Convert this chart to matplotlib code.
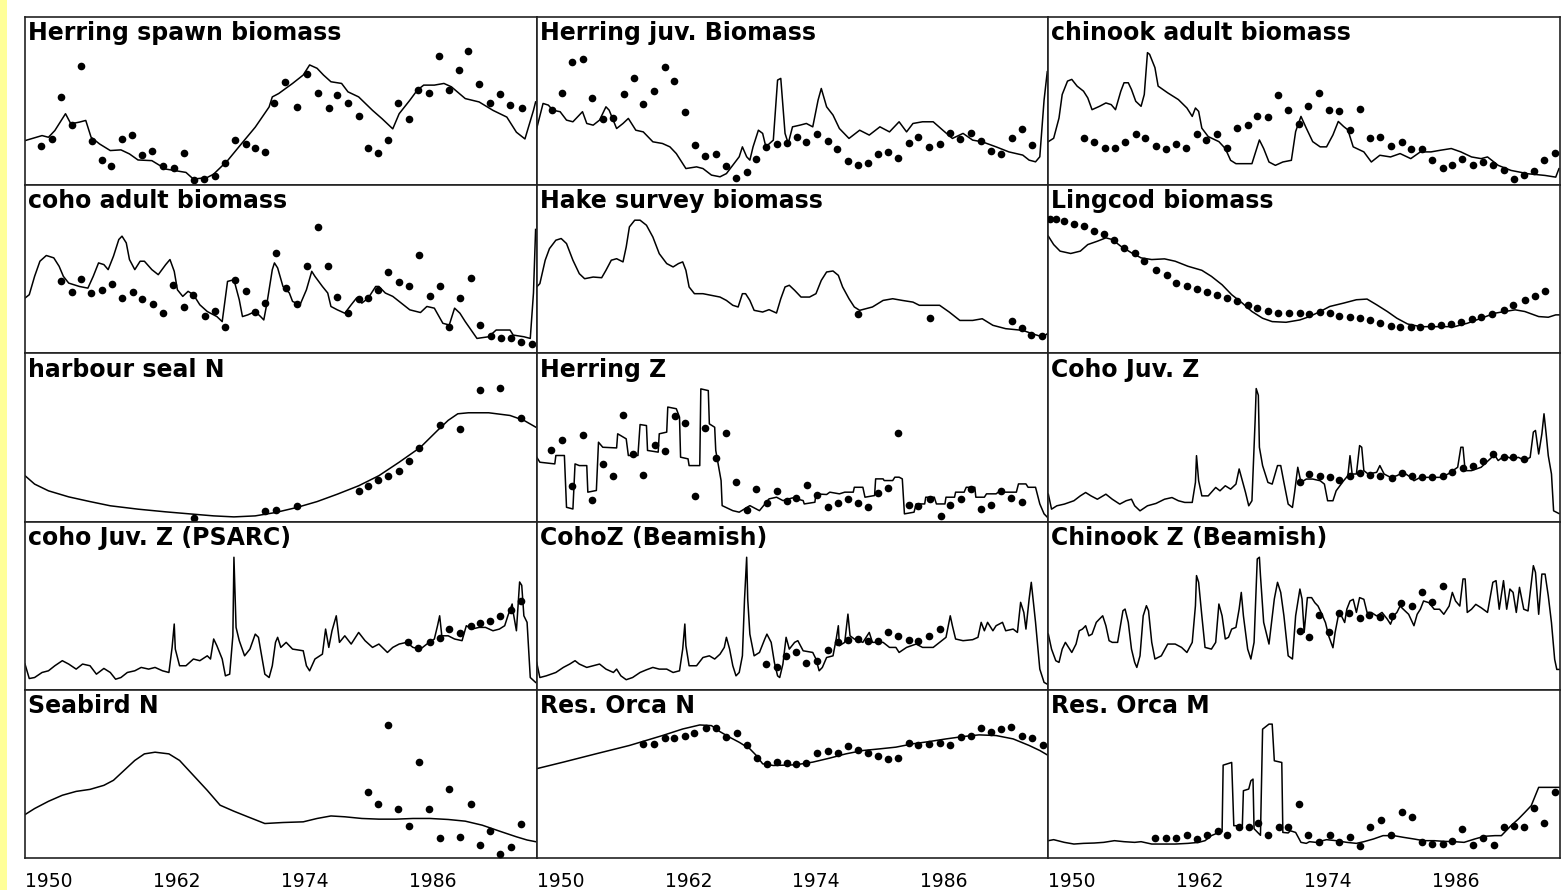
import matplotlib
matplotlib.use("Agg")
import matplotlib.pyplot as plt
from matplotlib.patches import Rectangle

YEAR_TICKS = [1950, 1962, 1974, 1986]
TICK_LABELS = ["1950", "1962", "1974", "1986"]

# all values, on a 0-100 scale of each panel's height

# Herring spawn biomass
hsb_line_yr = [1950.0, 1951.6, 1952.2, 1952.8, 1953.8, 1954.3, 1955.1, 1955.7, 1956.2, 1957.0,
               1958.0, 1959.0, 1959.8, 1960.6, 1961.9, 1963.2, 1965.1, 1965.8, 1967.1, 1967.7,
               1969.0, 1970.3, 1971.6, 1972.9, 1973.2, 1973.8, 1975.1, 1976.1, 1976.7, 1977.4,
               1978.0, 1978.7, 1979.7, 1980.3, 1981.3, 1982.6, 1983.5, 1984.5, 1985.1, 1986.1,
               1986.8, 1987.4, 1988.4, 1989.3, 1990.0, 1991.3, 1992.6, 1993.9, 1995.2, 1996.1,
               1996.9, 1997.7, 1997.9]
hsb_line_val = [26.5, 29.5, 28.5, 32.5, 42.5, 36.5, 37.5, 38.5, 28.5, 24.5,
                20.6, 21.0, 18.6, 15.0, 14.6, 9.6, 7.6, 3.6, 4.6, 6.6,
                14.6, 24.6, 34.5, 46.5, 52.5, 54.5, 60.5, 65.5, 71.5, 69.5,
                65.5, 61.5, 60.5, 55.5, 52.5, 44.5, 39.5, 33.5, 42.5, 50.5,
                56.5, 59.5, 59.5, 60.5, 58.5, 51.5, 49.5, 44.5, 40.5, 31.5,
                27.5, 44.5, 49.5]
hsb_obs_yr = [1951.5, 1952.5, 1953.4, 1954.4, 1955.3, 1956.3, 1957.2, 1958.1, 1959.1, 1960.0,
              1961.0, 1961.9, 1962.9, 1964.0, 1964.9, 1965.9, 1966.8, 1967.8, 1968.8, 1969.7,
              1970.7, 1971.6, 1972.5, 1973.4, 1974.4, 1975.5, 1976.5, 1977.5, 1978.5, 1979.3,
              1980.3, 1981.3, 1982.2, 1983.1, 1984.1, 1985.0, 1986.0, 1986.9, 1987.9, 1988.8,
              1989.8, 1990.7, 1991.6, 1992.6, 1993.6, 1994.6, 1995.5, 1996.6]
hsb_obs_val = [23.2, 27.5, 52.5, 35.5, 71.1, 26.5, 15.0, 11.2, 27.5, 29.9,
               18.0, 20.6, 11.6, 10.2, 19.0, 3.2, 3.6, 5.6, 13.2, 26.9,
               24.2, 22.2, 19.6, 49.1, 61.5, 46.5, 66.1, 55.1, 45.9, 53.5,
               48.9, 41.1, 22.2, 19.0, 26.9, 49.1, 39.5, 56.5, 55.1, 77.0,
               56.5, 68.5, 79.8, 59.9, 49.1, 54.5, 47.9, 45.9]

# Herring juv. Biomass
hjb_line_yr = [1950.0, 1950.6, 1951.1, 1951.5, 1952.2, 1952.8, 1953.4, 1954.0, 1954.3, 1954.7,
               1955.3, 1955.9, 1956.5, 1956.8, 1957.5, 1958.1, 1958.6, 1959.3, 1960.0, 1960.9,
               1961.8, 1962.5, 1963.1, 1964.0, 1965.0, 1965.6, 1966.4, 1967.2, 1967.8, 1968.4,
               1969.0, 1969.3, 1969.7, 1970.0, 1970.3, 1970.8, 1971.2, 1971.5, 1972.2, 1972.6,
               1972.9, 1973.3, 1973.6, 1974.0, 1974.7, 1975.3, 1975.9, 1976.4, 1976.7, 1977.2,
               1977.8, 1978.4, 1979.3, 1980.3, 1981.2, 1982.2, 1983.1, 1984.0, 1984.7, 1985.3,
               1986.2, 1987.2, 1988.1, 1989.0, 1990.0, 1990.9, 1991.8, 1993.1, 1994.3, 1995.6,
               1996.2, 1996.8, 1997.2, 1997.6, 1997.9]
hjb_line_val = [33.7, 48.6, 47.6, 44.6, 43.7, 38.7, 37.7, 41.7, 43.7, 36.7,
                35.7, 38.7, 46.6, 44.6, 33.7, 36.7, 39.7, 32.7, 31.7, 25.8,
                24.8, 22.8, 18.8, 9.9, 10.9, 9.9, 6.0, 5.0, 6.9, 11.9,
                16.9, 22.8, 16.9, 14.9, 22.8, 32.7, 30.8, 22.8, 26.8, 62.5,
                63.5, 30.8, 24.8, 34.7, 35.7, 36.7, 34.7, 50.6, 57.5, 46.6,
                41.7, 33.7, 27.8, 32.7, 29.8, 34.7, 31.7, 37.7, 31.7, 36.7,
                37.7, 37.7, 32.7, 27.8, 30.8, 26.8, 25.8, 22.8, 19.8, 17.9,
                14.9, 13.9, 16.9, 50.6, 67.5]
hjb_obs_yr = [1951.4, 1952.4, 1953.3, 1954.3, 1955.2, 1956.2, 1957.2, 1958.2, 1959.1, 1960.0,
              1961.0, 1962.0, 1962.9, 1963.9, 1964.9, 1965.8, 1966.8, 1967.8, 1968.7, 1969.7,
              1970.6, 1971.5, 1972.5, 1973.5, 1974.4, 1975.3, 1976.3, 1977.3, 1978.2, 1979.2,
              1980.1, 1981.1, 1982.0, 1983.0, 1983.9, 1984.9, 1985.8, 1986.8, 1987.8, 1988.8,
              1989.7, 1990.7, 1991.7, 1992.6, 1993.6, 1994.6, 1995.5, 1996.5]
hjb_obs_val = [44.6, 55.0, 73.0, 75.2, 52.0, 39.1, 39.7, 54.2, 63.7, 48.0,
               56.3, 70.0, 62.1, 43.3, 23.8, 17.5, 18.3, 11.3, 4.4, 7.9,
               15.7, 22.8, 24.4, 24.8, 28.4, 25.4, 30.2, 26.2, 21.4, 14.3,
               11.9, 13.3, 18.5, 19.8, 15.9, 25.2, 28.6, 22.8, 24.2, 31.1,
               27.2, 30.8, 26.0, 20.4, 18.3, 28.2, 33.2, 23.8]

# chinook adult biomass
cab_line_yr = [1950.0, 1950.5, 1951.0, 1951.3, 1951.8, 1952.2, 1952.7, 1953.3, 1953.7, 1954.1,
               1954.8, 1955.4, 1955.9, 1956.3, 1956.8, 1957.1, 1957.5, 1957.8, 1958.2, 1958.7,
               1959.0, 1959.3, 1959.5, 1960.0, 1960.3, 1961.2, 1962.2, 1963.0, 1963.5, 1963.8,
               1964.1, 1964.4, 1965.0, 1966.0, 1966.6, 1967.1, 1967.6, 1969.1, 1969.8, 1970.2,
               1970.7, 1971.3, 1972.0, 1972.8, 1973.2, 1973.7, 1974.2, 1974.8, 1975.5, 1976.1,
               1976.7, 1977.2, 1977.7, 1978.1, 1978.6, 1979.6, 1980.3, 1981.1, 1982.1, 1983.0,
               1984.0, 1984.9, 1985.9, 1986.8, 1987.8, 1988.7, 1989.7, 1990.6, 1991.2, 1992.2,
               1993.4, 1995.0, 1996.6, 1997.6, 1997.9]
cab_line_val = [25.9, 27.9, 39.9, 53.9, 61.9, 62.9, 58.9, 55.9, 51.9, 44.9,
                46.9, 48.9, 47.9, 44.9, 55.9, 60.9, 60.9, 56.9, 49.9, 46.9,
                53.9, 78.8, 77.8, 69.9, 58.9, 54.9, 50.9, 45.9, 40.9, 45.9,
                43.9, 33.9, 28.9, 25.9, 21.8, 14.8, 12.8, 12.8, 26.9, 21.8,
                13.8, 11.8, 13.8, 14.8, 31.9, 40.9, 33.9, 25.9, 22.8, 22.8,
                29.9, 37.9, 34.9, 32.9, 22.8, 19.8, 13.8, 17.8, 16.8, 18.8,
                15.8, 19.8, 19.8, 20.8, 21.8, 19.8, 16.8, 15.8, 16.8, 11.8,
                8.8, 6.8, 5.8, 4.8, 9.8]
cab_obs_yr = [1953.3, 1954.3, 1955.3, 1956.3, 1957.2, 1958.2, 1959.1, 1960.1, 1961.0, 1962.0,
              1962.9, 1963.9, 1964.8, 1965.8, 1966.8, 1967.7, 1968.7, 1969.6, 1970.6, 1971.5,
              1972.5, 1973.5, 1974.4, 1975.4, 1976.3, 1977.3, 1978.3, 1979.2, 1980.2, 1981.1,
              1982.1, 1983.2, 1984.0, 1985.1, 1986.0, 1987.0, 1987.9, 1988.8, 1989.8, 1990.8,
              1991.7, 1992.7, 1993.7, 1994.6, 1995.6, 1996.5, 1997.5]
cab_obs_val = [27.9, 25.9, 22.4, 22.4, 25.5, 30.3, 27.9, 23.4, 21.4, 24.2,
               22.4, 30.3, 26.9, 30.3, 22.4, 33.9, 35.9, 40.9, 40.3, 53.5,
               44.9, 36.5, 47.3, 54.9, 44.9, 43.9, 32.9, 45.3, 27.9, 28.9,
               23.4, 25.5, 21.8, 21.4, 14.8, 10.4, 11.8, 15.8, 11.8, 13.8,
               11.8, 8.8, 3.4, 5.8, 8.2, 14.8, 19.4]

# coho adult biomass
coa_line_yr = [1950.0, 1950.4, 1950.9, 1951.4, 1952.0, 1952.7, 1953.2, 1953.6, 1954.1, 1955.1,
               1955.9, 1956.4, 1956.9, 1957.4, 1957.8, 1958.3, 1958.8, 1959.1, 1959.5, 1959.8,
               1960.3, 1960.8, 1961.2, 1961.9, 1962.5, 1963.2, 1963.6, 1964.0, 1964.3, 1964.8,
               1965.3, 1965.8, 1966.4, 1967.1, 1968.0, 1968.5, 1969.0, 1969.6, 1970.1, 1970.4,
               1970.9, 1971.6, 1972.1, 1972.4, 1972.7, 1973.2, 1973.4, 1973.7, 1974.2, 1974.8,
               1975.1, 1975.8, 1976.4, 1976.9, 1977.2, 1977.9, 1978.4, 1978.7, 1979.3, 1980.0,
               1980.6, 1981.1, 1981.6, 1982.2, 1982.9, 1983.2, 1983.8, 1984.5, 1985.5, 1986.1,
               1987.1, 1987.7, 1988.4, 1989.2, 1989.8, 1990.3, 1990.8, 1991.3, 1992.4, 1993.5,
               1994.2, 1995.5, 1995.8, 1996.8, 1997.4, 1997.7, 1997.9]
coa_line_val = [32.9, 34.9, 45.8, 54.8, 58.2, 56.8, 51.8, 45.8, 41.8, 39.8,
                38.8, 45.8, 53.8, 52.8, 49.8, 57.8, 67.7, 69.7, 65.7, 55.8,
                49.8, 54.8, 54.8, 49.8, 46.8, 52.8, 55.8, 48.8, 37.8, 33.9,
                36.9, 34.9, 28.9, 24.9, 21.9, 18.9, 42.8, 43.8, 31.9, 21.9,
                22.9, 24.9, 21.9, 19.9, 29.9, 49.8, 53.8, 50.8, 39.8, 35.9,
                30.9, 28.9, 37.8, 48.8, 45.8, 39.8, 35.9, 27.9, 25.9, 23.9,
                28.9, 32.9, 29.9, 32.9, 39.8, 39.8, 35.9, 33.9, 28.9, 25.9,
                24.3, 27.9, 26.9, 17.9, 16.9, 26.9, 23.9, 18.9, 8.9, 9.9,
                13.9, 13.9, 10.9, 9.9, 8.9, 35.9, 73.7]
coa_obs_yr = [1953.4, 1954.4, 1955.3, 1956.2, 1957.2, 1958.2, 1959.1, 1960.1, 1961.0, 1962.0,
              1962.9, 1963.9, 1964.9, 1965.8, 1966.9, 1967.8, 1968.8, 1969.7, 1970.7, 1971.6,
              1972.5, 1973.5, 1974.5, 1975.5, 1976.5, 1977.5, 1978.4, 1979.3, 1980.3, 1981.3,
              1982.2, 1983.1, 1984.1, 1985.1, 1986.0, 1987.0, 1988.0, 1988.9, 1989.8, 1990.8,
              1991.8, 1992.7, 1993.7, 1994.7, 1995.6, 1996.5, 1997.6]
coa_obs_val = [42.8, 36.5, 44.4, 35.9, 37.8, 41.2, 32.9, 36.5, 32.5, 29.5,
               23.9, 40.6, 27.3, 34.9, 22.5, 25.5, 15.9, 43.8, 36.9, 24.5,
               29.9, 59.8, 38.6, 29.5, 52.2, 75.1, 51.8, 33.5, 23.9, 32.5,
               32.9, 37.8, 48.4, 42.2, 39.8, 58.4, 34.3, 39.8, 15.9, 32.9,
               45.0, 16.9, 10.5, 8.9, 8.9, 6.6, 5.6]

# Hake survey biomass
hak_line_yr = [1950.0, 1950.3, 1950.8, 1951.2, 1951.8, 1952.3, 1952.8, 1953.4, 1954.0, 1954.5,
               1955.3, 1956.1, 1956.5, 1957.0, 1957.5, 1958.1, 1958.4, 1958.7, 1959.2, 1959.7,
               1960.3, 1960.9, 1961.5, 1962.2, 1962.8, 1963.3, 1963.7, 1964.0, 1964.3, 1964.8,
               1965.6, 1966.4, 1967.2, 1967.8, 1968.4, 1968.9, 1969.3, 1969.6, 1970.0, 1970.4,
               1971.2, 1971.8, 1972.5, 1972.9, 1973.3, 1973.7, 1974.2, 1974.8, 1975.6, 1976.2,
               1976.7, 1977.2, 1977.8, 1978.3, 1978.7, 1979.3, 1979.8, 1980.3, 1980.9, 1981.5,
               1982.5, 1983.4, 1984.3, 1985.3, 1985.9, 1987.8, 1988.7, 1989.7, 1990.9, 1991.8,
               1992.8, 1994.0, 1995.6, 1996.5, 1997.5, 1997.9]
hak_line_val = [39.5, 41.5, 55.4, 62.3, 67.3, 68.3, 65.3, 55.4, 47.4, 44.4,
                45.4, 45.0, 49.4, 55.4, 56.3, 54.4, 63.3, 75.2, 79.2, 79.2,
                76.2, 69.2, 59.3, 53.4, 51.4, 53.4, 54.4, 49.4, 39.5, 35.5,
                35.5, 34.5, 33.5, 31.5, 28.6, 27.6, 35.5, 35.5, 31.5, 25.6,
                24.6, 26.0, 24.0, 32.5, 39.5, 40.5, 37.5, 33.5, 33.5, 35.5,
                43.4, 48.4, 49.0, 46.4, 39.5, 32.5, 27.6, 25.6, 26.6, 27.6,
                31.5, 32.5, 31.5, 30.5, 28.6, 28.6, 24.6, 19.6, 19.6, 20.6,
                16.7, 14.7, 13.7, 11.7, 9.7, 11.7]
hak_obs_yr = [1980.1, 1986.9, 1994.6, 1995.5, 1996.4, 1997.4]
hak_obs_val = [23.6, 21.2, 19.2, 15.1, 10.7, 10.1]

# Lingcod biomass
lin_line_yr = [1950.0, 1950.5, 1951.1, 1952.1, 1953.0, 1953.7, 1954.6, 1955.4, 1956.0, 1956.8,
               1957.8, 1958.7, 1959.7, 1960.9, 1961.9, 1963.1, 1964.4, 1965.3, 1966.3, 1967.2,
               1968.2, 1969.1, 1970.1, 1971.0, 1972.3, 1973.6, 1974.5, 1975.5, 1976.4, 1977.7,
               1978.9, 1979.9, 1980.8, 1981.8, 1982.7, 1983.7, 1984.9, 1986.5, 1988.1, 1989.3,
               1990.6, 1991.9, 1992.8, 1993.8, 1994.7, 1996.0, 1996.9, 1997.6, 1998.0]
lin_line_val = [69.7, 64.7, 60.8, 59.4, 60.8, 64.7, 66.7, 68.7, 67.7, 63.7,
                59.8, 56.8, 55.8, 56.2, 54.8, 51.8, 49.4, 45.8, 40.8, 34.9,
                29.9, 24.9, 20.9, 18.9, 18.5, 19.9, 21.9, 24.9, 27.9, 29.9,
                31.9, 32.3, 28.9, 24.9, 20.9, 17.5, 15.9, 15.9, 15.9, 17.9,
                20.9, 23.9, 24.9, 25.9, 24.9, 21.9, 21.5, 22.9, 22.9]
lin_obs_yr = [1950.2, 1950.7, 1951.5, 1952.4, 1953.3, 1954.3, 1955.2, 1956.2, 1957.1, 1958.1,
              1959.0, 1960.1, 1961.1, 1962.0, 1963.0, 1963.9, 1964.9, 1965.8, 1966.8, 1967.7,
              1968.7, 1969.6, 1970.6, 1971.5, 1972.6, 1973.6, 1974.5, 1975.5, 1976.4, 1977.3,
              1978.3, 1979.2, 1980.2, 1981.1, 1982.1, 1983.0, 1984.0, 1984.9, 1985.9, 1986.8,
              1987.8, 1988.7, 1989.7, 1990.6, 1991.6, 1992.7, 1993.6, 1994.7, 1995.7, 1996.6]
lin_obs_val = [80.1, 79.7, 78.7, 76.7, 75.7, 72.7, 70.7, 67.7, 62.7, 59.8,
               54.8, 49.8, 46.8, 41.8, 39.8, 38.2, 36.3, 34.9, 32.9, 30.9,
               28.9, 26.9, 25.3, 24.3, 24.3, 23.9, 23.5, 24.9, 23.9, 22.3,
               21.5, 20.9, 19.9, 17.9, 16.5, 15.9, 15.9, 15.9, 16.3, 16.7,
               17.5, 18.9, 20.3, 21.9, 23.5, 25.9, 28.9, 31.9, 34.3, 37.3]

# harbour seal N
sea_line_yr = [1950.0, 1950.9, 1952.2, 1954.1, 1956.1, 1958.0, 1960.6, 1963.2, 1965.8, 1967.7,
               1969.6, 1971.6, 1973.5, 1975.5, 1977.4, 1979.3, 1981.3, 1983.2, 1985.1, 1987.1,
               1988.7, 1989.7, 1990.6, 1991.6, 1993.5, 1995.5, 1996.8, 1997.9]
sea_line_val = [27.3, 22.3, 18.3, 14.7, 11.9, 9.4, 7.4, 5.8, 4.4, 3.4,
                2.8, 3.4, 5.4, 8.4, 11.9, 16.3, 21.3, 27.3, 35.3, 44.2,
                54.2, 60.2, 64.1, 64.7, 64.7, 63.1, 60.2, 56.2]
sea_obs_yr = [1965.9, 1972.5, 1973.5, 1975.5, 1981.3, 1982.2, 1983.1, 1984.1, 1985.1, 1986.0,
              1987.0, 1988.9, 1990.8, 1992.7, 1994.6, 1996.5]
sea_obs_val = [2.0, 6.4, 6.8, 9.4, 17.9, 20.9, 24.9, 26.9, 30.3, 35.9,
               43.6, 57.2, 54.8, 78.5, 79.5, 61.8]

# Herring Z
hz_line_yr = [1950.0, 1950.3, 1951.7, 1951.8, 1952.6, 1952.8, 1953.4, 1953.6, 1954.0, 1954.7,
              1954.8, 1955.6, 1955.8, 1956.2, 1957.5, 1957.6, 1958.4, 1958.6, 1959.5, 1959.7,
              1960.3, 1960.4, 1961.4, 1961.5, 1962.2, 1962.3, 1963.1, 1963.4, 1963.5, 1964.2,
              1964.3, 1965.3, 1965.4, 1966.1, 1966.2, 1966.7, 1966.8, 1967.3, 1967.4, 1968.4,
              1969.0, 1970.0, 1970.9, 1971.8, 1972.5, 1973.1, 1974.0, 1975.0, 1975.1, 1976.1,
              1976.2, 1977.2, 1977.5, 1978.4, 1978.9, 1979.7, 1979.8, 1980.6, 1980.8, 1981.7,
              1981.8, 1982.5, 1982.6, 1983.4, 1983.6, 1984.0, 1984.3, 1984.5, 1985.4, 1985.6,
              1986.4, 1986.5, 1987.3, 1987.5, 1988.3, 1988.4, 1989.2, 1989.3, 1990.1, 1990.3,
              1991.1, 1991.2, 1992.0, 1992.2, 1993.1, 1993.3, 1995.0, 1995.2, 1995.9, 1996.1,
              1996.8, 1997.2, 1997.6, 1998.0]
hz_line_val = [38.3, 35.3, 34.3, 39.3, 39.3, 8.5, 7.5, 34.3, 33.3, 33.3,
               17.5, 18.5, 47.2, 44.2, 43.8, 52.2, 49.2, 39.3, 39.3, 57.7,
               57.1, 42.3, 41.3, 52.2, 53.2, 68.1, 67.1, 62.1, 38.3, 37.3,
               33.3, 33.3, 78.9, 77.9, 58.1, 56.1, 42.3, 24.4, 9.5, 6.5,
               5.6, 9.5, 6.5, 13.5, 14.5, 12.5, 14.1, 12.5, 10.5, 11.5,
               16.5, 16.1, 17.5, 16.5, 17.5, 17.5, 20.4, 20.4, 14.5, 15.5,
               25.4, 25.4, 24.4, 24.4, 26.4, 26.4, 25.4, 4.6, 5.6, 10.5,
               10.5, 14.5, 14.5, 10.5, 10.5, 14.5, 14.5, 17.5, 17.5, 20.4,
               20.4, 14.5, 14.5, 16.5, 16.5, 17.5, 17.5, 22.4, 22.4, 20.4,
               20.4, 10.5, 4.6, 2.0]
hz_obs_yr = [1951.3, 1952.4, 1953.3, 1954.3, 1955.2, 1956.2, 1957.2, 1958.1, 1959.0, 1960.0,
             1961.1, 1962.0, 1963.0, 1963.9, 1964.9, 1965.8, 1966.8, 1967.8, 1968.7, 1969.7,
             1970.6, 1971.6, 1972.5, 1973.5, 1974.3, 1975.4, 1976.3, 1977.3, 1978.3, 1979.2,
             1980.1, 1981.1, 1982.0, 1983.0, 1983.9, 1984.9, 1985.8, 1986.9, 1987.9, 1988.8,
             1989.8, 1990.7, 1991.7, 1992.6, 1993.6, 1994.5, 1995.5]
hz_obs_val = [42.3, 48.8, 21.0, 51.6, 12.9, 34.3, 26.9, 63.5, 39.9, 28.0,
              45.6, 41.7, 62.5, 58.7, 15.5, 55.5, 37.7, 52.6, 23.4, 6.9,
              19.4, 10.9, 17.9, 12.1, 14.1, 21.8, 16.1, 8.5, 10.9, 13.5,
              10.9, 8.9, 16.9, 19.8, 52.6, 10.1, 9.1, 13.5, 3.2, 9.9,
              13.5, 19.4, 7.5, 9.9, 17.9, 13.9, 11.5]

# Coho Juv. Z
cjz_line_yr = [1950.0, 1950.3, 1950.8, 1951.5, 1952.4, 1953.0, 1953.5, 1954.0, 1954.6, 1955.4,
               1956.0, 1956.7, 1957.3, 1957.8, 1958.1, 1958.6, 1959.3, 1960.1, 1960.9, 1961.6,
               1962.2, 1962.8, 1963.5, 1963.8, 1963.9, 1964.1, 1964.4, 1965.0, 1965.7, 1966.1,
               1966.6, 1967.1, 1967.6, 1967.9, 1968.2, 1968.5, 1968.8, 1969.1, 1969.4, 1969.5,
               1969.7, 1969.8, 1970.1, 1970.6, 1971.0, 1971.5, 1971.8, 1972.1, 1972.5, 1972.9,
               1973.1, 1973.4, 1973.7, 1974.2, 1974.8, 1975.5, 1975.9, 1976.2, 1976.7, 1977.0,
               1977.7, 1978.1, 1978.3, 1978.5, 1978.9, 1979.2, 1979.4, 1979.6, 1980.0, 1980.8,
               1981.1, 1981.5, 1982.1, 1982.7, 1983.3, 1984.0, 1984.3, 1984.9, 1985.9, 1986.8,
               1987.5, 1988.4, 1988.7, 1988.9, 1989.1, 1989.7, 1990.6, 1991.6, 1991.7, 1992.2,
               1992.8, 1993.5, 1994.1, 1994.7, 1995.2, 1995.5, 1995.7, 1996.0, 1996.3, 1996.5,
               1996.7, 1996.9, 1997.2, 1997.4, 1997.9]
cjz_line_val = [16.3, 7.4, 9.4, 10.4, 12.4, 15.3, 17.3, 15.3, 13.3, 16.3,
                13.3, 10.4, 12.4, 13.3, 9.4, 6.4, 9.4, 10.8, 13.3, 14.3,
                12.4, 11.4, 11.4, 23.3, 39.2, 24.3, 15.3, 15.3, 20.3, 18.3,
                21.3, 19.3, 22.3, 31.3, 24.3, 17.3, 9.4, 12.4, 60.2, 79.1,
                75.1, 44.2, 33.3, 23.3, 22.3, 33.3, 33.3, 23.3, 10.4, 8.4,
                17.3, 32.3, 23.3, 25.3, 25.3, 24.3, 22.3, 12.4, 12.4, 18.3,
                24.3, 27.3, 39.2, 28.3, 28.3, 45.2, 44.2, 30.3, 28.3, 29.3,
                33.3, 28.3, 26.3, 27.3, 29.3, 26.3, 24.3, 26.3, 26.3, 26.3,
                28.3, 32.3, 44.2, 44.2, 30.3, 30.3, 32.3, 38.2, 41.2, 36.3,
                39.2, 37.3, 38.2, 36.3, 38.2, 53.2, 54.2, 40.2, 52.2, 64.1,
                52.2, 39.2, 28.3, 6.4, 4.8]
cjz_obs_yr = [1973.6, 1974.5, 1975.5, 1976.4, 1977.3, 1978.3, 1979.2, 1980.2, 1981.1, 1982.2,
              1983.2, 1984.1, 1985.1, 1986.0, 1987.0, 1987.9, 1988.9, 1989.8, 1990.8, 1991.7,
              1992.7, 1993.6, 1994.6]
cjz_obs_val = [23.3, 28.3, 27.3, 26.3, 24.7, 27.3, 28.7, 27.9, 27.3, 25.9,
               28.7, 27.3, 26.7, 26.7, 27.3, 29.3, 31.9, 33.3, 36.3, 40.2,
               38.2, 38.2, 37.3]

# coho Juv. Z (PSARC)
psa_line_yr = [1950.0, 1950.4, 1950.9, 1951.6, 1952.2, 1952.8, 1953.5, 1954.1, 1954.8, 1955.4,
               1956.1, 1956.7, 1957.4, 1958.0, 1958.5, 1959.0, 1959.6, 1960.3, 1960.9, 1961.6,
               1962.2, 1962.9, 1963.5, 1963.8, 1964.0, 1964.1, 1964.5, 1965.1, 1965.8, 1966.4,
               1967.1, 1967.4, 1967.7, 1968.0, 1968.5, 1968.8, 1969.2, 1969.5, 1969.6, 1969.8,
               1970.1, 1970.6, 1971.1, 1971.6, 1971.9, 1972.2, 1972.5, 1972.9, 1973.2, 1973.5,
               1973.7, 1974.0, 1974.5, 1975.1, 1976.1, 1976.4, 1976.7, 1977.2, 1977.9, 1978.2,
               1978.5, 1978.8, 1979.2, 1979.5, 1980.0, 1980.6, 1981.3, 1981.9, 1982.6, 1983.2,
               1984.0, 1984.5, 1985.1, 1985.8, 1986.4, 1987.1, 1987.7, 1988.4, 1988.7, 1988.9,
               1989.1, 1989.7, 1990.3, 1991.0, 1991.4, 1991.9, 1992.6, 1993.2, 1993.9, 1994.5,
               1995.0, 1995.3, 1995.7, 1995.8, 1996.1, 1996.4, 1996.6, 1996.8, 1997.1, 1997.4,
               1997.9]
psa_line_val = [15.3, 6.7, 7.3, 10.3, 11.3, 14.3, 17.3, 15.3, 12.3, 15.3,
                14.3, 9.3, 12.7, 10.3, 6.3, 7.3, 10.3, 11.3, 13.3, 12.3,
                13.3, 11.3, 10.3, 25.2, 39.1, 24.2, 14.3, 14.3, 18.3, 17.3,
                20.2, 18.3, 30.2, 26.2, 18.3, 8.3, 9.3, 32.1, 78.8, 37.1,
                29.2, 20.2, 24.2, 33.1, 31.2, 20.2, 9.3, 7.3, 14.3, 28.2,
                31.2, 25.2, 28.2, 24.2, 23.2, 14.3, 11.3, 18.3, 21.2, 36.1,
                25.2, 35.1, 44.0, 28.2, 32.1, 27.2, 34.1, 29.2, 25.2, 27.2,
                22.2, 25.2, 27.2, 28.2, 25.2, 24.2, 27.2, 30.2, 38.1, 44.0,
                32.1, 32.1, 30.2, 29.2, 38.1, 36.1, 37.1, 37.1, 35.1, 36.1,
                38.1, 44.0, 51.0, 46.0, 35.1, 64.1, 62.1, 44.0, 40.1, 7.3,
                4.4]
psa_obs_yr = [1985.9, 1986.9, 1988.0, 1988.9, 1989.8, 1990.8, 1991.8, 1992.7, 1993.6, 1994.6,
              1995.6, 1996.5]
psa_obs_val = [28.2, 24.6, 28.6, 30.6, 36.1, 33.7, 38.1, 39.7, 41.1, 44.0,
               47.6, 53.0]

# CohoZ (Beamish)
cbz_line_yr = [1950.0, 1950.3, 1950.9, 1951.8, 1952.5, 1953.1, 1953.6, 1954.0, 1954.7, 1955.3,
               1955.9, 1956.5, 1957.2, 1957.5, 1957.9, 1958.4, 1959.0, 1959.7, 1960.3, 1960.9,
               1961.5, 1962.2, 1962.8, 1963.4, 1963.7, 1963.9, 1964.0, 1964.3, 1965.0, 1965.6,
               1966.2, 1966.7, 1967.2, 1967.6, 1967.8, 1968.1, 1968.4, 1968.7, 1969.0, 1969.3,
               1969.5, 1969.7, 1969.8, 1970.0, 1970.4, 1970.9, 1971.4, 1971.6, 1972.0, 1972.3,
               1972.6, 1972.8, 1973.1, 1973.4, 1973.7, 1974.2, 1974.5, 1975.0, 1975.9, 1976.2,
               1976.5, 1976.8, 1977.2, 1977.8, 1978.1, 1978.3, 1978.4, 1978.9, 1979.2, 1979.4,
               1979.8, 1980.6, 1981.2, 1981.5, 1982.5, 1983.1, 1983.7, 1984.0, 1984.7, 1985.6,
               1986.2, 1987.2, 1987.8, 1988.4, 1988.8, 1989.0, 1989.3, 1990.0, 1990.9, 1991.4,
               1991.7, 1992.0, 1992.3, 1992.8, 1993.1, 1993.7, 1994.0, 1994.7, 1995.1, 1995.4,
               1995.7, 1995.9, 1996.2, 1996.4, 1996.6, 1996.8, 1997.2, 1997.6, 1998.0]
cbz_line_val = [16.3, 7.3, 8.3, 10.3, 13.3, 15.3, 17.3, 15.3, 13.3, 14.3,
                15.3, 12.3, 10.3, 12.3, 8.3, 6.0, 7.3, 10.3, 11.9, 13.3,
                12.3, 12.3, 10.3, 11.3, 24.2, 39.1, 26.2, 14.3, 14.3, 19.2,
                20.2, 18.3, 21.2, 25.2, 31.2, 24.2, 14.3, 8.3, 10.3, 20.2,
                53.9, 78.8, 53.9, 33.1, 20.2, 22.2, 30.2, 33.1, 28.2, 16.3,
                8.3, 7.3, 15.3, 31.2, 24.2, 28.2, 29.2, 23.2, 22.2, 18.3,
                11.3, 13.3, 19.2, 20.2, 30.2, 38.1, 26.2, 28.2, 45.0, 32.1,
                30.2, 28.2, 34.1, 28.2, 28.2, 25.2, 25.2, 22.2, 25.2, 27.2,
                25.2, 25.2, 28.2, 31.2, 44.0, 38.1, 30.2, 29.2, 29.8, 31.2,
                40.1, 35.1, 40.1, 35.1, 38.1, 40.1, 35.1, 36.1, 34.1, 52.0,
                46.0, 36.1, 54.0, 63.9, 52.0, 40.1, 12.3, 4.4, 3.0]
cbz_obs_yr = [1971.5, 1972.5, 1973.4, 1974.3, 1975.3, 1976.3, 1977.3, 1978.3, 1979.2, 1980.1,
              1981.1, 1982.0, 1983.0, 1983.9, 1984.9, 1985.8, 1986.8, 1987.8]
cbz_obs_val = [15.3, 13.3, 19.8, 22.6, 15.9, 16.9, 23.8, 28.2, 29.8, 30.2,
               28.8, 29.2, 34.1, 31.7, 29.8, 29.2, 31.7, 36.1]

# Chinook Z (Beamish)
chz_line_yr = [1950.0, 1950.3, 1950.7, 1951.0, 1951.3, 1951.6, 1951.9, 1952.2, 1952.6, 1952.9,
               1953.2, 1953.5, 1953.8, 1954.1, 1954.5, 1954.8, 1955.1, 1955.4, 1955.7, 1956.0,
               1956.5, 1957.0, 1957.2, 1957.5, 1957.8, 1958.1, 1958.3, 1958.6, 1958.9, 1959.2,
               1959.4, 1959.7, 1960.0, 1960.6, 1961.2, 1961.9, 1962.5, 1963.0, 1963.5, 1963.8,
               1963.9, 1964.1, 1964.4, 1964.7, 1965.3, 1965.7, 1966.0, 1966.3, 1966.6, 1966.9,
               1967.2, 1967.6, 1967.9, 1968.1, 1968.3, 1968.7, 1969.0, 1969.3, 1969.6, 1969.8,
               1969.9, 1970.2, 1970.7, 1971.2, 1971.5, 1971.8, 1972.1, 1972.5, 1972.9, 1973.2,
               1973.6, 1973.8, 1974.0, 1974.3, 1974.7, 1975.0, 1975.3, 1975.6, 1976.0, 1976.3,
               1976.7, 1976.9, 1977.2, 1977.5, 1977.8, 1978.0, 1978.3, 1978.6, 1978.9, 1979.2,
               1979.6, 1979.9, 1980.3, 1980.8, 1981.3, 1981.8, 1982.1, 1982.4, 1982.7, 1983.0,
               1983.3, 1983.8, 1984.3, 1984.6, 1984.9, 1985.2, 1985.7, 1986.2, 1986.7, 1987.1,
               1987.6, 1987.9, 1988.2, 1988.6, 1988.9, 1989.1, 1989.3, 1989.7, 1990.1, 1990.6,
               1991.2, 1991.7, 1992.0, 1992.3, 1992.7, 1993.0, 1993.3, 1993.6, 1993.9, 1994.2,
               1994.6, 1995.0, 1995.5, 1995.7, 1996.0, 1996.3, 1996.6, 1996.9, 1997.2, 1997.5,
               1997.7, 1998.0]
chz_line_val = [33.1, 24.2, 17.3, 16.3, 24.2, 28.2, 25.2, 22.2, 27.2, 35.1,
                36.1, 38.1, 32.1, 33.1, 40.1, 42.1, 44.0, 38.1, 29.2, 28.2,
                28.2, 47.0, 48.0, 40.1, 24.2, 16.3, 13.3, 20.2, 44.0, 50.0,
                47.0, 28.2, 18.3, 20.2, 27.2, 27.2, 25.2, 22.2, 28.2, 50.0,
                67.9, 63.9, 44.0, 25.2, 24.2, 28.2, 51.0, 44.0, 30.2, 31.2,
                36.1, 37.1, 48.0, 57.9, 44.0, 24.2, 18.3, 28.2, 77.8, 78.8,
                67.9, 40.1, 27.2, 54.0, 63.9, 57.9, 44.0, 20.2, 18.3, 44.0,
                59.9, 54.0, 34.1, 54.8, 54.8, 51.8, 49.8, 45.8, 39.9, 32.0,
                25.0, 34.0, 43.9, 43.9, 40.0, 47.9, 52.8, 53.8, 46.0, 54.8,
                53.8, 46.0, 46.0, 43.9, 46.0, 42.0, 39.0, 44.0, 46.0, 49.8,
                47.9, 44.9, 38.1, 44.9, 47.9, 52.8, 51.8, 47.9, 47.9, 44.9,
                49.8, 57.9, 52.8, 49.8, 65.9, 65.9, 46.0, 47.9, 50.8, 48.8,
                46.0, 63.9, 64.9, 47.9, 64.9, 47.9, 59.9, 57.9, 46.0, 60.9,
                47.9, 46.9, 73.8, 69.8, 44.9, 68.8, 68.8, 55.9, 39.9, 18.1,
                12.1, 12.1]
chz_obs_yr = [1973.6, 1974.5, 1975.4, 1976.3, 1977.3, 1978.2, 1979.2, 1980.1, 1981.1, 1982.2,
              1983.1, 1984.1, 1985.1, 1986.0, 1987.0]
chz_obs_val = [35.1, 31.5, 44.4, 34.1, 45.4, 45.4, 42.7, 44.6, 43.1, 44.0,
               51.6, 49.6, 58.3, 52.4, 61.9]

# Seabird N
bir_line_yr = [1950.0, 1950.9, 1952.2, 1953.5, 1954.8, 1956.1, 1957.4, 1958.3, 1959.3, 1960.3,
               1961.2, 1962.2, 1963.5, 1964.5, 1965.8, 1967.1, 1968.3, 1969.6, 1970.9, 1972.5,
               1974.2, 1976.1, 1977.4, 1978.7, 1980.0, 1981.6, 1983.2, 1984.8, 1986.4, 1988.0,
               1989.7, 1991.3, 1992.9, 1994.5, 1996.1, 1997.1, 1997.9]
bir_line_val = [25.8, 29.4, 33.7, 37.3, 39.6, 40.8, 43.2, 46.2, 52.1, 58.0,
                61.9, 62.9, 61.9, 58.0, 49.1, 40.2, 31.4, 27.8, 24.5, 20.5,
                21.1, 21.5, 23.5, 25.0, 24.5, 23.5, 23.1, 23.1, 23.5, 23.5,
                22.9, 21.9, 19.5, 16.0, 12.6, 10.7, 9.7]
bir_obs_yr = [1982.2, 1983.1, 1984.1, 1985.0, 1986.0, 1987.0, 1987.9, 1988.9, 1989.8, 1990.8,
              1991.8, 1992.7, 1993.6, 1994.6, 1995.6, 1996.5]
bir_obs_val = [39.3, 32.3, 79.1, 29.0, 18.9, 57.0, 29.4, 11.6, 40.8, 12.6,
               32.3, 7.7, 16.0, 2.2, 6.7, 20.1]

# Res. Orca N
orn_line_yr = [1950.0, 1952.5, 1955.6, 1958.7, 1961.8, 1963.7, 1965.3, 1966.4, 1967.2, 1968.1,
               1969.0, 1970.0, 1970.6, 1971.2, 1972.2, 1974.3, 1975.9, 1977.5, 1979.0, 1980.6,
               1982.2, 1983.7, 1985.3, 1986.8, 1988.4, 1990.0, 1991.5, 1993.1, 1994.7, 1996.2,
               1997.2, 1997.9]
orn_line_val = [53.1, 57.0, 62.0, 66.9, 72.8, 76.7, 79.1, 78.7, 75.1, 71.8,
                68.8, 64.9, 61.0, 56.0, 55.0, 55.4, 57.0, 59.4, 61.9, 63.9,
                64.9, 65.9, 67.9, 69.2, 70.8, 72.2, 73.2, 72.8, 70.8, 66.9,
                63.9, 61.3]
orn_obs_yr = [1960.0, 1961.0, 1962.0, 1962.9, 1963.9, 1964.8, 1965.9, 1966.8, 1967.8, 1968.8,
              1969.7, 1970.7, 1971.6, 1972.5, 1973.5, 1974.3, 1975.3, 1976.3, 1977.3, 1978.3,
              1979.2, 1980.1, 1981.1, 1982.0, 1983.0, 1983.9, 1984.9, 1985.8, 1986.8, 1987.8,
              1988.8, 1989.8, 1990.7, 1991.7, 1992.6, 1993.6, 1994.5, 1995.5, 1996.5, 1997.5]
orn_obs_val = [67.9, 67.9, 71.2, 71.2, 72.8, 74.4, 77.3, 77.3, 71.8, 74.4,
               66.9, 59.6, 55.6, 57.0, 56.4, 56.0, 56.4, 62.3, 63.9, 62.5,
               66.5, 64.5, 62.5, 60.9, 58.9, 59.6, 68.2, 67.3, 67.5, 68.2,
               66.9, 71.8, 72.8, 77.1, 75.1, 76.7, 77.7, 72.8, 71.2, 66.9]

# Res. Orca M
orm_line_yr = [1950.0, 1950.5, 1951.5, 1952.4, 1953.3, 1954.3, 1955.2, 1956.2, 1957.1, 1958.1,
               1958.7, 1959.7, 1960.6, 1961.9, 1963.1, 1964.1, 1964.7, 1965.3, 1966.0, 1966.3,
               1966.4, 1967.2, 1967.4, 1968.2, 1968.3, 1968.8, 1969.0, 1969.2, 1969.3, 1969.9,
               1970.1, 1970.7, 1971.0, 1971.2, 1971.9, 1972.0, 1972.5, 1972.7, 1973.2, 1973.7,
               1974.2, 1974.5, 1975.1, 1976.1, 1977.0, 1978.0, 1978.9, 1979.6, 1980.5, 1981.4,
               1982.4, 1983.3, 1984.3, 1985.2, 1986.2, 1987.1, 1988.1, 1989.0, 1990.0, 1990.9,
               1991.9, 1992.5, 1993.4, 1994.1, 1994.7, 1995.3, 1996.0, 1996.9, 1998.0]
orm_line_val = [10.3, 10.9, 9.3, 8.3, 8.7, 8.9, 9.3, 10.3, 9.7, 9.3,
                9.7, 8.3, 8.3, 8.3, 8.7, 9.3, 10.3, 13.3, 15.2, 15.6,
                55.2, 56.8, 19.2, 19.2, 40.0, 41.0, 45.9, 46.9, 17.4, 13.5,
                76.6, 79.6, 79.6, 57.8, 56.8, 15.2, 14.9, 16.2, 15.2, 9.3,
                8.7, 9.7, 9.3, 10.9, 10.3, 9.3, 8.7, 9.7, 11.3, 13.3,
                13.3, 12.3, 11.3, 10.3, 10.3, 9.9, 9.7, 9.3, 11.3, 12.9,
                13.3, 13.3, 19.2, 23.2, 27.1, 31.1, 42.0, 42.0, 42.0]
orm_obs_yr = [1960.0, 1961.0, 1962.0, 1963.0, 1963.9, 1964.9, 1965.9, 1966.8, 1967.9, 1968.8,
              1969.7, 1970.6, 1971.6, 1972.5, 1973.5, 1974.4, 1975.4, 1976.4, 1977.3, 1978.3,
              1979.2, 1980.2, 1981.2, 1982.1, 1983.2, 1984.1, 1985.1, 1986.0, 1987.0, 1987.9,
              1988.8, 1989.8, 1990.8, 1991.8, 1992.7, 1993.7, 1994.6, 1995.6, 1996.5, 1997.5]
orm_obs_val = [11.7, 11.7, 11.9, 13.7, 11.3, 13.7, 15.8, 13.9, 18.6, 18.6,
               20.8, 13.9, 18.6, 18.6, 32.1, 13.9, 9.3, 13.7, 9.3, 12.7,
               7.3, 18.6, 22.8, 13.9, 27.5, 24.2, 9.3, 8.3, 8.3, 10.3,
               17.2, 7.9, 11.9, 7.9, 18.6, 19.2, 18.6, 29.5, 20.8, 39.5]

# panel order, row by row
PANELS = [
    ("Herring spawn biomass", hsb_line_yr, hsb_line_val, hsb_obs_yr, hsb_obs_val),
    ("Herring juv. Biomass", hjb_line_yr, hjb_line_val, hjb_obs_yr, hjb_obs_val),
    ("chinook adult biomass", cab_line_yr, cab_line_val, cab_obs_yr, cab_obs_val),
    ("coho adult biomass", coa_line_yr, coa_line_val, coa_obs_yr, coa_obs_val),
    ("Hake survey biomass", hak_line_yr, hak_line_val, hak_obs_yr, hak_obs_val),
    ("Lingcod biomass", lin_line_yr, lin_line_val, lin_obs_yr, lin_obs_val),
    ("harbour seal N", sea_line_yr, sea_line_val, sea_obs_yr, sea_obs_val),
    ("Herring Z", hz_line_yr, hz_line_val, hz_obs_yr, hz_obs_val),
    ("Coho Juv. Z", cjz_line_yr, cjz_line_val, cjz_obs_yr, cjz_obs_val),
    ("coho Juv. Z (PSARC)", psa_line_yr, psa_line_val, psa_obs_yr, psa_obs_val),
    ("CohoZ (Beamish)", cbz_line_yr, cbz_line_val, cbz_obs_yr, cbz_obs_val),
    ("Chinook Z (Beamish)", chz_line_yr, chz_line_val, chz_obs_yr, chz_obs_val),
    ("Seabird N", bir_line_yr, bir_line_val, bir_obs_yr, bir_obs_val),
    ("Res. Orca N", orn_line_yr, orn_line_val, orn_obs_yr, orn_obs_val),
    ("Res. Orca M", orm_line_yr, orm_line_val, orm_obs_yr, orm_obs_val),
]


def paired(xs, ys, name):
    n = min(len(xs), len(ys))
    if len(xs) != len(ys):
        print(f"warning: {name} lengths {len(xs)} vs {len(ys)}")
    return xs[:n], ys[:n]


W, H = 1568, 890
fig = plt.figure(figsize=(W / 100, H / 100), dpi=100)
fig.patches.append(Rectangle((0, 0), 7 / W, 1, transform=fig.transFigure,
                             facecolor="#ffff99", edgecolor="none", zorder=0))

gs = fig.add_gridspec(5, 3, left=25 / W, right=1560 / W, top=1 - 17 / H,
                      bottom=1 - 858 / H, wspace=0, hspace=0)

for i, (title, lx, ly, ox, oy) in enumerate(PANELS):
    row, col = divmod(i, 3)
    ax = fig.add_subplot(gs[row, col])
    lx, ly = paired(lx, ly, title + " line")
    ox, oy = paired(ox, oy, title + " obs")
    ax.plot(lx, ly, color="black", lw=1.1, zorder=2)
    ax.plot(ox, oy, "o", color="black", ms=5.5, mew=0, zorder=3)
    ax.set_xlim(1950, 1998)
    ax.set_ylim(0, 100)
    ax.set_yticks([])
    for sp in ax.spines.values():
        sp.set_linewidth(1.2)
        sp.set_color("#222222")
    ax.text(0.006, 0.975, title, transform=ax.transAxes, ha="left", va="top",
            fontsize=17, fontweight="bold", family="DejaVu Sans", zorder=4)
    if row == 4:
        ax.set_xticks(YEAR_TICKS, TICK_LABELS)
        ax.tick_params(axis="x", length=0, pad=10, labelsize=13.5)
        for lbl in ax.get_xticklabels():
            lbl.set_ha("left")
    else:
        ax.set_xticks([])

fig.savefig("out.png", dpi=100, facecolor="white")
